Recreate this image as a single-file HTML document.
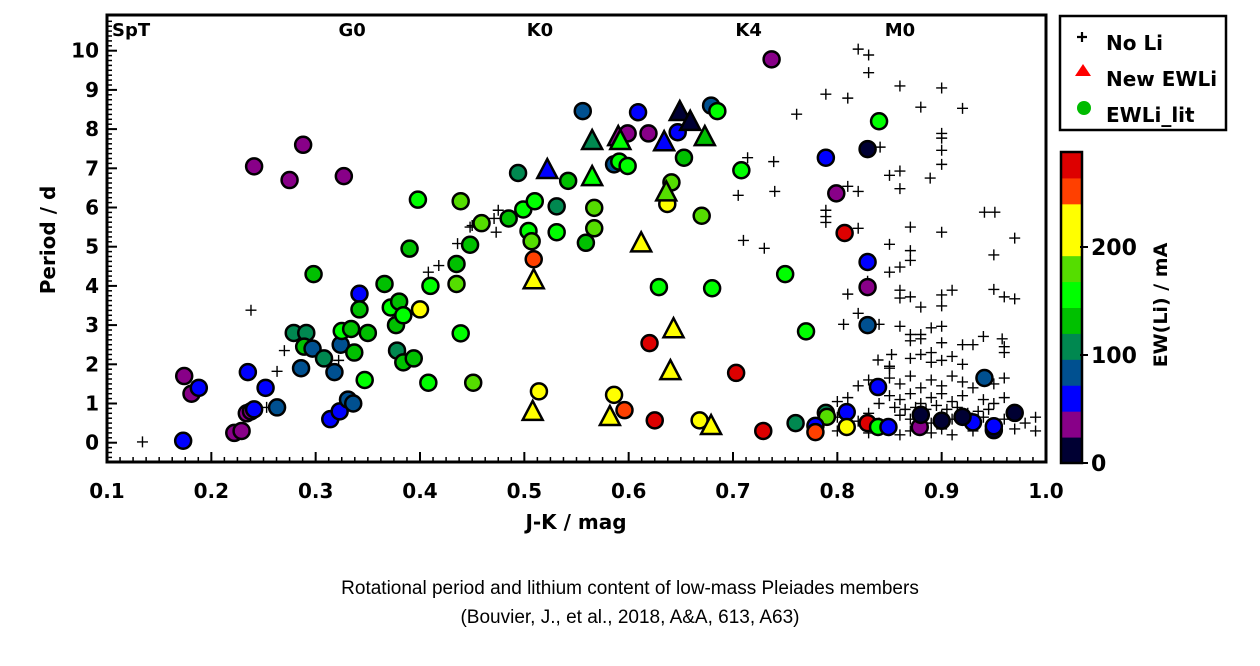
<!DOCTYPE html>
<html><head><meta charset="utf-8"><style>
body{margin:0;background:#fff;width:1260px;height:661px;overflow:hidden;font-family:"Liberation Sans",sans-serif}
svg text{font-family:"DejaVu Sans","Liberation Sans",sans-serif}
</style></head><body>
<svg id="chart" width="1260" height="661">
<g id="grid"></g>
<g id="marks"></g>
<g id="legend"></g>
<g id="cbar"></g>
<text x="630" y="594" text-anchor="middle" font-size="19" style="font-family:'Liberation Sans',sans-serif">Rotational period and lithium content of low-mass Pleiades members</text>
<text x="630" y="623" text-anchor="middle" font-size="19" style="font-family:'Liberation Sans',sans-serif">(Bouvier, J., et al., 2018, A&amp;A, 613, A63)</text>
</svg>
<script>
const xTicks=[0.1,0.2,0.3,0.4,0.5,0.6,0.7,0.8,0.9,1.0];
const yTicks=[0,1,2,3,4,5,6,7,8,9,10];
const spTypes=["SpT","G0","K0","K4","M0"];
const spPos=[0.128,0.335,0.515,0.715,0.86];
// circles: literature EW(Li)
const circX=[0.174,0.181,0.188,0.173,0.241,0.275,0.288,0.327,0.222,0.229,0.234,0.238,0.241,0.235,0.252,0.263,0.279,0.291,0.289,0.297,0.308,0.286,0.318,0.324,0.325,0.334,0.337,0.35,0.314,0.323,0.331,0.336,0.342,0.342,0.298,0.347,0.366,0.372,0.38,0.377,0.384,0.378,0.384,0.394,0.39,0.4,0.398,0.439,0.435,0.435,0.41,0.439,0.408,0.451,0.448,0.459,0.485,0.499,0.51,0.504,0.507,0.531,0.531,0.494,0.542,0.567,0.567,0.559,0.509,0.556,0.609,0.679,0.685,0.599,0.619,0.647,0.586,0.591,0.599,0.653,0.641,0.637,0.67,0.708,0.629,0.68,0.62,0.703,0.514,0.586,0.596,0.625,0.668,0.737,0.84,0.829,0.789,0.799,0.807,0.829,0.829,0.75,0.77,0.829,0.941,0.839,0.97,0.729,0.76,0.789,0.79,0.779,0.779,0.809,0.809,0.829,0.839,0.849,0.879,0.93,0.95,0.95,0.88,0.9,0.92];
const circY=[1.7,1.25,1.4,0.05,7.05,6.7,7.6,6.8,0.25,0.3,0.75,0.8,0.85,1.8,1.4,0.9,2.8,2.8,2.45,2.4,2.15,1.9,1.8,2.5,2.85,2.9,2.3,2.8,0.6,0.8,1.1,1.0,3.8,3.4,4.3,1.6,4.05,3.45,3.6,3.0,3.25,2.35,2.05,2.15,4.95,3.4,6.2,
6.16,4.56,4.05,4.0,2.79,1.53,1.53,5.05,5.6,5.72,5.95,6.16,5.4,5.14,6.03,5.37,6.88,6.68,5.99,5.47,5.1,4.68,8.46,8.43,8.6,8.46,7.89,7.89,7.92,7.1,7.17,7.06,7.27,6.64,6.09,5.79,6.95,3.97,3.94,2.54,1.78,1.31,1.22,0.83,0.57,0.57,9.78,8.2,7.49,7.27,6.36,5.35,4.61,3.97,4.3,2.84,3.0,1.65,1.42,0.76,0.3,0.5,0.76,0.66,0.43,0.27,0.78,0.4,0.5,0.4,0.4,0.4,0.52,0.32,0.42,0.71,0.56,0.66];
const circEW=[35,35,60,60,35,35,35,35,35,35,35,35,60,60,60,85,110,110,135,85,110,85,85,85,160,135,135,135,60,60,85,85,60,135,135,160,135,160,135,135,160,110,135,135,135,215,160,185,135,185,160,160,160,185,135,185,135,160,160,160,185,110,160,110,135,185,185,135,255,85,60,85,160,35,35,60,85,160,160,135,185,215,185,160,160,160,275,275,215,215,255,275,215,35,160,10,60,35,275,60,35,160,160,85,85,60,10,275,110,110,185,60,255,60,215,275,160,60,35,60,10,60,10,10,10];
// triangles: new EW(Li)
const triX=[0.522,0.565,0.59,0.592,0.649,0.659,0.634,0.673,0.565,0.636,0.612,0.509,0.643,0.64,0.508,0.582,0.679];
const triY=[6.93,7.67,7.77,7.67,8.41,8.16,7.64,7.77,6.75,6.36,5.06,4.12,2.87,1.8,0.76,0.63,0.4];
const triEW=[60,110,35,160,10,10,60,135,160,185,215,215,215,215,215,215,215];
// crosses: no Li
const crossX=[0.134,0.238,0.27,0.263,0.253,0.322,0.322,0.408,0.418,0.436,0.448,0.45,0.471,0.475,0.473,
0.82,0.83,0.83,0.86,0.9,0.789,0.81,0.88,0.92,0.761,0.9,0.9,0.9,0.9,0.841,0.714,0.739,0.86,0.85,0.889,0.86,0.705,0.74,0.81,0.82,0.789,0.789,0.789,0.941,0.951,0.82,0.87,0.9,0.97,0.71,0.73,0.85,0.87,0.87,0.86,0.85,0.95,0.829,0.81,0.86,0.86,0.87,0.9,0.91,0.95,0.96,0.97,0.88,0.9,0.82,0.806,0.84,0.86,0.87,0.88,0.89,0.9,
0.87,0.88,0.9,0.92,0.93,0.94,0.958,0.96,0.96,0.87,0.88,0.89,0.89,0.9,0.91,0.92,0.85,0.839,0.852,0.85,
0.82,0.83,0.85,0.86,0.87,0.88,0.89,0.9,0.91,0.92,0.93,0.95,0.96,
0.8,0.81,0.84,0.85,0.86,0.87,0.88,0.89,0.9,0.91,0.92,0.94,0.95,0.96,
0.8,0.82,0.83,0.84,0.86,0.87,0.88,0.89,0.9,0.91,0.92,0.93,0.94,0.96,0.97,0.98,0.99,
0.8,0.83,0.85,0.86,0.87,0.88,0.89,0.9,0.91,0.93,0.95,0.97,0.99,
0.875,0.885,0.895,0.905,0.915,0.865,0.925,0.935,0.945,0.855];
const crossY=[0.02,3.38,2.35,1.82,0.9,2.1,2.85,4.35,4.52,5.08,5.5,5.54,5.72,5.93,5.37,
10.04,9.89,9.44,9.1,9.05,8.89,8.79,8.56,8.53,8.38,7.89,7.77,7.46,7.1,7.54,7.27,7.17,6.93,6.82,6.75,6.48,6.31,6.41,6.54,6.41,5.93,5.77,5.62,5.88,5.88,5.47,5.5,5.37,5.22,5.16,4.96,5.06,4.9,4.65,4.48,4.35,4.79,4.12,3.79,3.89,3.69,3.72,3.77,3.89,3.91,3.72,3.67,3.46,3.49,3.3,3.02,3.02,2.97,2.76,2.76,2.93,2.97,
2.6,2.65,2.55,2.5,2.5,2.71,2.65,2.45,2.3,2.15,2.25,2.05,2.3,2.1,2.2,2.0,1.95,2.11,2.25,1.9,
1.45,1.6,1.65,1.5,1.7,1.4,1.6,1.45,1.7,1.55,1.4,1.5,1.65,
1.05,1.15,1.0,1.2,1.1,1.25,1.0,1.15,1.25,1.05,1.2,1.1,1.0,1.15,
0.65,0.55,0.75,0.5,0.7,0.6,0.8,0.5,0.7,0.6,0.75,0.55,0.65,0.6,0.7,0.5,0.65,
0.3,0.25,0.35,0.2,0.3,0.4,0.25,0.35,0.2,0.3,0.25,0.35,0.3,
0.9,0.85,0.95,0.85,0.9,0.85,0.75,0.8,0.85,0.9];
const cbColors=["#000033","#880088","#0000ff","#005090","#008850","#00c000","#00ff00","#55dd00","#ffff00","#ffff00","#ff4000","#dd0000"];
const cbTicks=[0,100,200];

const L=107,R=1046,T=15,B=462;
const X=v=>L+(v-0.1)/0.9*(R-L);
const Y=v=>442.7-v*39.2;
const NS="http://www.w3.org/2000/svg";
function mk(tag,parent,attrs){const e=document.createElementNS(NS,tag);for(const k in attrs)e.setAttribute(k,attrs[k]);parent.appendChild(e);return e;}
function col(ew){const i=Math.max(0,Math.min(11,Math.floor(ew/24)));return cbColors[i];}
const g=document.getElementById('grid');
for(let v=0.1;v<=1.0001;v+=0.0125){const x=X(v);
 let t=mk('line',g,{x1:x,x2:x,y1:B,y2:B-5,stroke:'#000','stroke-width':1.5});
 }
for(let v=-0.5;v<=10.8;v+=0.125){const y=Y(v);if(y<T||y>B)continue;
 let t=mk('line',g,{x1:L,x2:L+5,y1:y,y2:y,stroke:'#000','stroke-width':1.5});
 }
let fr=mk('rect',g,{x:L,y:T,width:R-L,height:B-T,fill:'none',stroke:'#000','stroke-width':3});

xTicks.forEach(v=>{let t=mk('line',g,{x1:X(v),x2:X(v),y1:B,y2:B-10,stroke:'#000','stroke-width':2});
 
 let s=mk('text',g,{x:X(v),y:498,'text-anchor':'middle','font-size':20,'font-weight':'bold'});s.textContent=v.toFixed(1);
 });
yTicks.forEach(v=>{let t=mk('line',g,{x1:L,x2:L+10,y1:Y(v),y2:Y(v),stroke:'#000','stroke-width':2});
 
 let s=mk('text',g,{x:99,y:Y(v)+7,'text-anchor':'end','font-size':20,'font-weight':'bold'});s.textContent=v;
 });
spTypes.forEach((n,i)=>{let s=mk('text',g,{x:X(spPos[i]),y:36,'text-anchor':i==0?'start':'middle','font-size':18,'font-weight':'bold'});
 if(i==0)s.setAttribute('x',112);s.textContent=n;
 });
let xt=mk('text',g,{x:576,y:529,'text-anchor':'middle','font-size':20,'font-weight':'bold'});xt.textContent='J-K / mag';

let yt=mk('text',g,{x:0,y:0,transform:'translate(55,240) rotate(-90)','text-anchor':'middle','font-size':20,'font-weight':'bold'});yt.textContent='Period / d';


const m=document.getElementById('marks');
crossX.forEach((x,i)=>{const cx=X(x),cy=Y(crossY[i]);
 let p=mk('path',m,{d:`M${cx-5.5},${cy}h11M${cx},${cy-5.5}v11`,stroke:'#000','stroke-width':1.4});
 });
circX.forEach((x,i)=>{let c=mk('circle',m,{cx:X(x),cy:Y(circY[i]),r:8,fill:col(circEW[i]),stroke:'#000','stroke-width':2.5});
 });
triX.forEach((x,i)=>{const cx=X(x),cy=Y(triY[i]);
 let t=mk('polygon',m,{points:`${cx},${cy-12} ${cx+10},${cy+7} ${cx-10},${cy+7}`,fill:col(triEW[i]),stroke:'#000','stroke-width':2.5,'stroke-linejoin':'miter'});
 });

const lg=document.getElementById('legend');
let lb=mk('rect',lg,{x:1060,y:16,width:166,height:114,fill:'#fff',stroke:'#000','stroke-width':2.5});

let lp=mk('path',lg,{d:'M1077,37h10M1082,32v10',stroke:'#000','stroke-width':2.2});

let ltr=mk('polygon',lg,{points:'1083,64 1091,76 1075,76',fill:'#ff0000'});

let lc=mk('circle',lg,{cx:1084,cy:108,r:7,fill:'#00bb00'});

[['No Li',50],['New EWLi',86],['EWLi_lit',122]].forEach(([n,y])=>{let s=mk('text',lg,{x:1106,y:y,'font-size':20,'font-weight':'bold'});s.textContent=n;
 });

const cb=document.getElementById('cbar');
const cbTop=152,cbBot=463,segH=(cbBot-cbTop)/12;
cbColors.forEach((c,i)=>{let r=mk('rect',cb,{x:1061,y:cbBot-(i+1)*segH,width:21,height:segH+0.5,fill:c});
 });
let cbf=mk('rect',cb,{x:1061,y:cbTop,width:21,height:cbBot-cbTop,fill:'none',stroke:'#000','stroke-width':2.5});

cbTicks.forEach(v=>{const y=cbBot-v*1.08;
 let t=mk('line',cb,{x1:1080,x2:1088,y1:y,y2:y,stroke:'#000','stroke-width':2});
 
 let s=mk('text',cb,{x:1091,y:y+8,'font-size':22,'font-weight':'bold'});s.textContent=v;
 });
let ct=mk('text',cb,{x:0,y:0,transform:'translate(1167,305) rotate(-90)','text-anchor':'middle','font-size':19,'font-weight':'bold'});ct.textContent='EW(Li) / mA';

</script>
</body></html>
